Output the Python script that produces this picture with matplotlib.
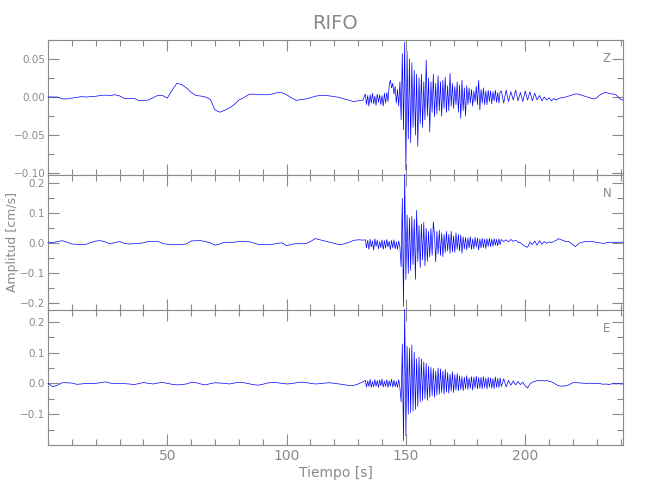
import numpy as np
import matplotlib
matplotlib.use("Agg")
import matplotlib.pyplot as plt
from matplotlib.ticker import MultipleLocator

# ---------------- data ----------------
station = "RIFO"
components = ["Z", "N", "E"]

# quiet part: t = 0, 2, ..., 132 s
quiet_t0, quiet_dt = 0.0, 2.0
# strong-motion part: t = 133.0, 133.5, ..., 189.5 s
burst_t0, burst_dt = 133.0, 0.5
# coda: t = 190, 191, ..., 241 s
coda_t0, coda_dt = 190.0, 1.0

z_quiet = [0.000, 0.000, 0.000, -0.0025, -0.0025, -0.0015, -0.0005, 0.0005, 0.000, 0.0005,
           0.001, 0.002, 0.0025, 0.002, 0.003, 0.0015, -0.002, -0.002, -0.0018, -0.0045,
           -0.0045, -0.004, -0.001, 0.002, 0.002, -0.0015, 0.009, 0.018, 0.0165, 0.012,
           0.006, 0.002, 0.0013, 0.000, -0.003, -0.017, -0.020, -0.0175, -0.0145, -0.010,
           -0.004, -0.001, 0.003, 0.004, 0.003, 0.003, 0.003, 0.004, 0.0057, 0.0057,
           0.003, -0.001, -0.0044, -0.0035, -0.0025, -0.001, 0.001, 0.002, 0.002, 0.0015,
           0.0005, -0.0005, -0.0025, -0.004, -0.006, -0.005, -0.004]
z_burst = [0.004, -0.010, 0.002, -0.012, 0.003, -0.008, 0.005, -0.009, 0.001, -0.011,
           0.004, -0.007, 0.003, -0.010, 0.002, -0.012, 0.005, -0.008, 0.006, -0.006,
           0.015, 0.022, 0.012, 0.018, 0.004, 0.014, -0.008, 0.010, -0.012, 0.020,
           -0.030, 0.057, -0.043, 0.072, -0.096, 0.060, -0.055, 0.050, -0.060, 0.045,
           -0.040, 0.035, -0.050, 0.030, -0.065, 0.025, -0.035, 0.030, -0.040, 0.020,
           -0.030, 0.049, -0.025, 0.025, -0.046, 0.020, -0.020, 0.030, -0.026, 0.018,
           -0.022, 0.028, -0.018, 0.020, -0.025, 0.022, -0.015, 0.026, -0.020, 0.015,
           -0.018, 0.031, -0.012, 0.018, -0.015, 0.014, -0.010, 0.020, -0.020, 0.016,
           -0.028, 0.022, -0.018, 0.012, -0.025, 0.015, -0.010, 0.012, -0.008, 0.010,
           -0.012, 0.008, -0.006, 0.014, -0.010, 0.022, -0.017, 0.010, -0.008, 0.012,
           -0.010, 0.008, -0.010, 0.009, -0.006, 0.008, -0.009, 0.007, -0.005, 0.009,
           -0.007, 0.006, -0.008, 0.007]
z_coda = [0.008, -0.008, 0.009, -0.006, 0.007, -0.004, 0.009, -0.005, 0.006, -0.006,
          0.008, -0.004, 0.007, -0.005, 0.005, -0.004, 0.002, -0.005, 0.000, -0.004,
          -0.001, -0.005, -0.002, -0.004, -0.002, -0.001, -0.001, 0.000, 0.001, 0.002,
          0.003, 0.004, 0.004, 0.003, 0.002, 0.001, 0.000, -0.001, -0.002, -0.0025,
          -0.001, 0.002, 0.004, 0.0055, 0.0057, 0.005, 0.004, 0.004, 0.003, 0.000,
          -0.003, -0.004]

n_quiet = [0.002, 0.003, 0.006, 0.009, 0.004, -0.002, -0.003, -0.003, -0.003, 0.003,
           0.008, 0.009, 0.005, -0.002, 0.003, 0.006, 0.000, -0.002, -0.001, 0.000,
           0.002, 0.006, 0.007, 0.007, 0.000, -0.003, -0.004, -0.004, -0.004, -0.002,
           0.008, 0.009, 0.009, 0.006, 0.002, -0.006, -0.002, 0.004, 0.003, 0.004,
           0.006, 0.006, 0.006, 0.002, -0.003, -0.004, -0.004, -0.003, 0.000, 0.002,
           -0.008, -0.003, -0.001, -0.001, -0.001, 0.006, 0.016, 0.012, 0.008, 0.004,
           0.000, -0.004, -0.002, 0.003, 0.010, 0.012, 0.011]
n_burst = [0.012, -0.015, 0.010, -0.020, 0.014, -0.012, 0.008, -0.022, 0.015, -0.010,
           0.011, -0.018, 0.006, -0.014, 0.012, -0.020, 0.009, -0.016, 0.013, -0.012,
           0.007, -0.021, 0.010, -0.015, 0.012, -0.018, 0.005, -0.020, 0.008, -0.012,
           -0.078, 0.150, -0.210, 0.230, -0.120, 0.095, -0.100, 0.085, -0.090, 0.090,
           -0.070, 0.080, -0.120, 0.110, -0.060, 0.060, -0.080, 0.065, -0.055, 0.070,
           -0.075, 0.050, -0.060, 0.040, -0.045, 0.050, -0.040, 0.072, 0.030, -0.061,
           0.040, -0.035, 0.044, -0.040, 0.035, -0.044, 0.030, -0.030, 0.040, -0.025,
           0.030, -0.033, 0.040, -0.028, 0.025, -0.030, 0.035, -0.020, 0.030, -0.025,
           0.028, -0.033, 0.022, -0.018, 0.020, -0.022, 0.018, -0.015, 0.022, -0.020,
           0.015, -0.018, 0.020, -0.012, 0.018, -0.022, 0.015, -0.015, 0.017, -0.014,
           0.014, -0.017, 0.016, -0.010, 0.017, -0.011, 0.014, -0.009, 0.016, -0.006,
           0.013, -0.008, 0.015, -0.004]
n_coda = [0.013, 0.006, 0.012, 0.005, 0.013, 0.007, 0.011, 0.004, 0.002, -0.004,
          -0.010, -0.013, 0.004, -0.004, 0.008, -0.006, 0.009, -0.003, 0.006, 0.000,
          0.005, 0.003, 0.006, 0.010, 0.016, 0.012, 0.010, 0.006, 0.007, 0.002,
          -0.004, -0.011, -0.004, 0.002, 0.004, 0.006, 0.005, 0.006, 0.007, 0.005,
          0.003, 0.002, 0.001, 0.000, 0.002, 0.003, 0.004, 0.004, 0.003, 0.004,
          0.004, 0.004]

e_quiet = [0.000, -0.011, -0.006, 0.002, 0.002, 0.001, -0.003, -0.002, 0.000, 0.000,
           0.000, 0.002, 0.005, 0.001, -0.001, -0.001, -0.001, -0.002, -0.004, -0.001,
           0.003, 0.000, -0.002, 0.001, 0.003, 0.000, -0.003, -0.005, -0.004, -0.002,
           0.003, 0.002, -0.002, -0.005, -0.001, 0.002, 0.001, 0.000, -0.002, 0.001,
           0.003, 0.002, -0.001, -0.004, -0.006, -0.003, 0.001, 0.003, 0.002, 0.000,
           -0.002, -0.001, 0.002, 0.004, 0.003, 0.000, -0.002, -0.001, 0.001, 0.002,
           0.000, -0.002, -0.004, -0.007, -0.007, -0.002, 0.005]
e_burst = [0.010, -0.012, 0.008, -0.010, 0.013, -0.013, 0.006, -0.011, 0.012, -0.009,
           0.009, -0.013, 0.011, -0.008, 0.014, -0.012, 0.007, -0.010, 0.012, -0.013,
           0.008, -0.009, 0.013, -0.012, 0.010, -0.011, 0.006, -0.013, 0.012, -0.015,
           -0.060, 0.128, -0.186, 0.240, -0.170, 0.120, -0.100, 0.115, -0.095, 0.125,
           -0.090, 0.100, -0.085, 0.080, -0.075, 0.085, -0.060, 0.079, -0.056, 0.070,
           -0.050, 0.065, -0.055, 0.055, -0.045, 0.052, -0.040, 0.048, -0.045, 0.040,
           -0.038, 0.050, -0.035, 0.047, -0.030, 0.040, -0.035, 0.045, -0.028, 0.035,
           -0.032, 0.030, -0.025, 0.038, -0.030, 0.028, -0.022, 0.032, -0.024, 0.025,
           -0.020, 0.022, -0.024, 0.020, -0.018, 0.025, -0.020, 0.018, -0.016, 0.022,
           -0.022, 0.020, -0.015, 0.024, -0.018, 0.019, -0.016, 0.020, -0.018, 0.022,
           -0.014, 0.017, -0.018, 0.020, -0.012, 0.018, -0.016, 0.015, -0.017, 0.021,
           -0.013, 0.016, -0.014, 0.018]
e_coda = [-0.010, 0.015, -0.012, 0.010, -0.006, 0.008, -0.005, 0.006, -0.004, 0.004,
          -0.008, -0.015, -0.002, 0.004, 0.006, 0.009, 0.008, 0.009, 0.008, 0.009,
          0.007, 0.005, 0.001, -0.004, -0.008, -0.009, -0.009, -0.008, -0.006, -0.002,
          0.002, 0.003, 0.002, 0.001, 0.001, 0.000, 0.000, 0.001, -0.001, 0.000,
          -0.001, 0.000, -0.002, -0.003, -0.002, -0.004, -0.002, -0.001, -0.002, -0.001,
          -0.002, -0.002]

traces = {"Z": (z_quiet, z_burst, z_coda),
          "N": (n_quiet, n_burst, n_coda),
          "E": (e_quiet, e_burst, e_coda)}

# axis settings per panel
ylims = {"Z": (-0.1026, 0.075), "N": (-0.222, 0.228), "E": (-0.200, 0.238)}
yticks = {"Z": [-0.10, -0.05, 0.00, 0.05], "N": [-0.2, -0.1, 0.0, 0.1, 0.2],
          "E": [-0.1, 0.0, 0.1, 0.2]}
ytick_fmt = {"Z": "{:.2f}", "N": "{:.1f}", "E": "{:.1f}"}
yminor = {"Z": 0.025, "N": 0.05, "E": 0.05}
xlim = (0.0, 241.0)
xticks = [50, 100, 150, 200]

# ---------------- plotting ----------------
GRAY = "#8a8a8a"
plt.rcParams["font.family"] = ["DejaVu Sans"]

fig = plt.figure(figsize=(6.5, 5.0), dpi=100)
left, width = 48 / 650, 575 / 650
top_px, h_px = 40, 135

for i, comp in enumerate(components):
    bottom = 1 - (top_px + (i + 1) * h_px) / 500
    ax = fig.add_axes([left, bottom, width, h_px / 500])
    q, b, c = traces[comp]
    t = np.concatenate([quiet_t0 + quiet_dt * np.arange(len(q)),
                        burst_t0 + burst_dt * np.arange(len(b)),
                        coda_t0 + coda_dt * np.arange(len(c))])
    v = np.concatenate([q, b, c])
    ax.plot(t, v, color="#0000ff", lw=0.5, clip_on=False, zorder=3)

    ax.set_xlim(*xlim)
    ax.set_ylim(*ylims[comp])
    ax.set_xticks(xticks)
    ax.xaxis.set_minor_locator(MultipleLocator(10))
    ax.set_yticks(yticks[comp])
    ax.set_yticklabels([ytick_fmt[comp].format(y).replace("-", "\u2212") for y in yticks[comp]])
    ax.yaxis.set_minor_locator(MultipleLocator(yminor[comp]))
    ax.tick_params(which="both", direction="in", top=True, right=True,
                   color=GRAY, labelcolor=GRAY, width=0.8)
    ax.tick_params(which="major", length=8)
    ax.tick_params(which="minor", length=4)
    ax.tick_params(axis="y", labelsize=7.5, pad=2)
    ax.tick_params(axis="x", labelsize=10, pad=3)
    for sp in ax.spines.values():
        sp.set_color(GRAY)
        sp.set_linewidth(0.8)
    if i < 2:
        ax.tick_params(axis="x", labelbottom=False)
    ax.text(0.972, 0.86, comp, transform=ax.transAxes, ha="center", va="center",
            color=GRAY, fontsize=8.5)
    if i == 0:
        ax.set_title(station, color=GRAY, fontsize=14, pad=8)
    if i == 2:
        ax.set_xlabel("Tiempo [s]", color=GRAY, fontsize=10, labelpad=2)

fig.text(13 / 650, 1 - 242 / 500, "Amplitud [cm/s]", rotation=90, ha="center",
         va="center", color=GRAY, fontsize=9)

fig.savefig("out.png", dpi=100)
